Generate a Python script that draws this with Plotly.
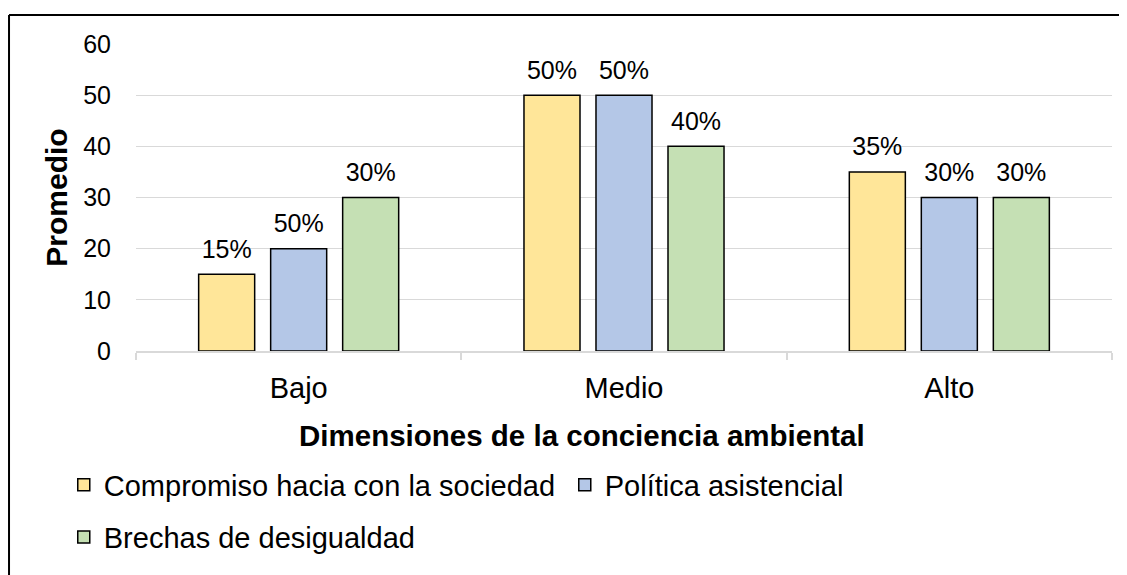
import plotly.graph_objects as go

categories = ["Bajo", "Medio", "Alto"]
series_names = ["Compromiso hacia con la sociedad", "Política asistencial", "Brechas de desigualdad"]
compromiso = [15, 50, 35]
politica = [20, 50, 30]
brechas = [30, 40, 30]
compromiso_labels = ["15%", "50%", "35%"]
politica_labels = ["50%", "50%", "30%"]
brechas_labels = ["30%", "40%", "30%"]
y_ticks = [0, 10, 20, 30, 40, 50, 60]
x_title = "Dimensiones de la conciencia ambiental"
y_title = "Promedio"

colors = ["#FFE699", "#B4C7E7", "#C5E0B4"]
values = [compromiso, politica, brechas]
labels = [compromiso_labels, politica_labels, brechas_labels]
legends = ["legend", "legend", "legend2"]

FONT = "Liberation Sans, Arial, sans-serif"
fig = go.Figure()
for i in range(3):
    fig.add_trace(go.Bar(
        x=categories, y=values[i], name=series_names[i],
        marker=dict(color=colors[i], line=dict(color="#000000", width=1.5)),
        offsetgroup=str(i), legend=legends[i], hoverinfo="skip",
    ))
for i in range(3):
    fig.add_trace(go.Scatter(
        x=categories, y=values[i], text=labels[i], mode="markers+text",
        textposition="top center", offsetgroup=str(i),
        marker=dict(size=15, opacity=0), showlegend=False, cliponaxis=False,
        textfont=dict(family=FONT, size=25, color="#000000"), hoverinfo="skip",
    ))

fig.update_layout(
    width=1119, height=567,
    margin=dict(l=128, r=15, t=36, b=224, autoexpand=False),
    paper_bgcolor="white", plot_bgcolor="white",
    barmode="group", bargap=0.336, bargroupgap=0.222,
    scattermode="group", scattergap=0.336,
    font=dict(family=FONT, color="#000000"),
    legend=dict(orientation="h", x=-0.074, xanchor="left", y=-0.4365, yanchor="middle",
                font=dict(size=29, family=FONT, color="#000000"), entrywidth=456,
                bgcolor="rgba(0,0,0,0)", itemclick=False),
    legend2=dict(orientation="h", x=-0.074, xanchor="left", y=-0.606, yanchor="middle",
                 font=dict(size=29, family=FONT, color="#000000"),
                 bgcolor="rgba(0,0,0,0)", itemclick=False),
    xaxis=dict(
        type="category", showline=True, linecolor="#D9D9D9", linewidth=1.5,
        ticks="outside", tickson="boundaries", ticklen=7, tickcolor="#D9D9D9", tickwidth=1.5,
        tickfont=dict(size=29, family=FONT, color="#000000"), ticklabelstandoff=10,
    ),
    yaxis=dict(
        range=[0, 60], tickvals=y_ticks, showgrid=True, gridcolor="#D9D9D9", gridwidth=1.2,
        zeroline=False, showline=False, ticks="", ticklabelstandoff=24,
        tickfont=dict(size=25, family=FONT, color="#000000"),
        title=dict(text="<b>" + y_title + "</b>", font=dict(size=30, family=FONT, color="#000000"),
                   standoff=6),
    ),
    annotations=[
        dict(text="<b>" + x_title + "</b>", xref="paper", yref="paper", x=0.457, y=-0.275,
             xanchor="center", yanchor="middle", showarrow=False,
             font=dict(size=29.5, family=FONT, color="#000000")),
    ],
    shapes=[
        dict(type="line", xref="paper", yref="paper", x0=-0.1301, x1=1.03, y0=1.0945, y1=1.0945,
             line=dict(color="#000000", width=2)),
        dict(type="line", xref="paper", yref="paper", x0=-0.1301, x1=-0.1301, y0=1.0945, y1=-0.9,
             line=dict(color="#000000", width=2)),
    ],
)

fig.write_html("out.html")
